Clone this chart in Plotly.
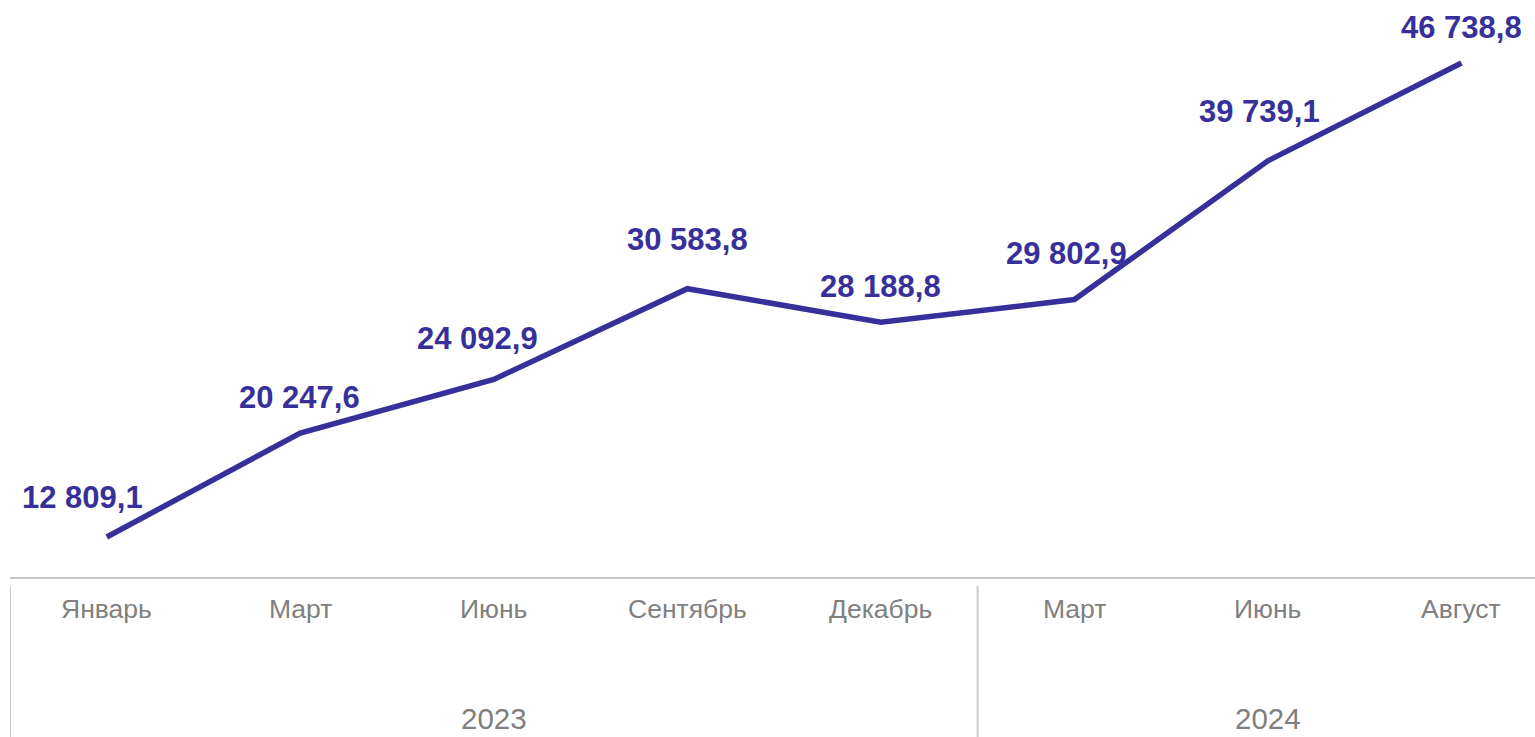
import plotly.graph_objects as go

months = ['Январь', 'Март', 'Июнь', 'Сентябрь', 'Декабрь', 'Март', 'Июнь', 'Август']
years = ['2023', '2024']
year_spans = [(0, 4), (5, 7)]
values = [12809.1, 20247.6, 24092.9, 30583.8, 28188.8, 29802.9, 39739.1, 46738.8]

# label nudges (px) relative to each point
label_dx = [-24, -1, -16, 0, 0, -8, -8, 0]
label_dy = [40, 36, 41, 49, 36, 46, 49, 36]

LINE = '#38309a'
GREY = '#808080'
AXIS = '#c8c8c8'

x = list(range(len(months)))


def ru(v):
    return f'{v:,.1f}'.replace(',', ' ').replace('.', ',')


fig = go.Figure()
fig.add_trace(go.Scatter(
    x = x,
    y = values,
    mode = 'lines',
    line = dict(color = LINE, width = 5.5),
    hoverinfo = 'skip'
))

annotations = []
for i, v in enumerate(values):
    annotations.append(dict(
        x = i, y = v, xref = 'x', yref = 'y',
        text = '<b>' + ru(v) + '</b>',
        showarrow = False,
        xshift = label_dx[i], yshift = label_dy[i],
        font = dict(size = 31, color = LINE, family = 'Liberation Sans, Arial')
    ))

for i, m in enumerate(months):
    annotations.append(dict(
        x = i, y = -0.0555, xref = 'x', yref = 'paper',
        text = m, showarrow = False, yanchor = 'middle',
        font = dict(size = 26.5, color = GREY, family = 'Liberation Sans, Arial')
    ))

for yr, (a, b) in zip(years, year_spans):
    annotations.append(dict(
        x = (a + b) / 2, y = -0.246, xref = 'x', yref = 'paper',
        text = yr, showarrow = False, yanchor = 'middle',
        font = dict(size = 29.5, color = GREY, family = 'Liberation Sans, Arial')
    ))

shapes = []
for a, b in year_spans:
    shapes.append(dict(
        type = 'line', xref = 'x', yref = 'paper',
        x0 = a - 0.5, x1 = a - 0.5, y0 = -0.016, y1 = -0.3,
        line = dict(color = AXIS, width = 2)
    ))

fig.update_layout(
    width = 1535,
    height = 737,
    margin = dict(l = 10, r = 0, t = 0, b = 160),
    plot_bgcolor = 'white',
    paper_bgcolor = 'white',
    showlegend = False,
    annotations = annotations,
    shapes = shapes
)

fig.update_xaxes(
    range = [-0.5, 7.38],
    showgrid = False,
    zeroline = False,
    showticklabels = False,
    showline = True,
    linecolor = AXIS,
    linewidth = 2
)
fig.update_yaxes(
    range = [9946, 51249],
    showgrid = False,
    zeroline = False,
    showticklabels = False,
    visible = False
)

# drop the default page margin so the figure fills the window exactly
fig.write_html(
    'out.html',
    config = dict(displayModeBar = False),
    post_script = "document.body.style.margin = '0'; document.body.style.overflow = 'hidden';"
)
